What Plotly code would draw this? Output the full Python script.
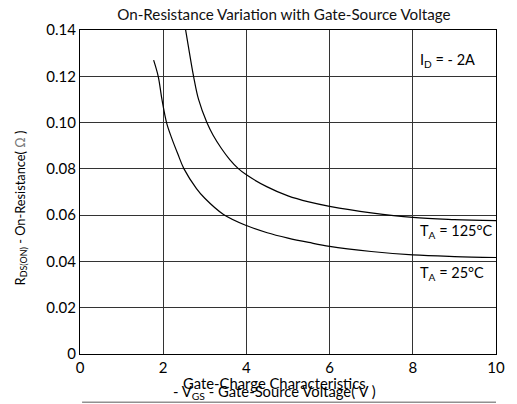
import plotly.graph_objects as go

# Data (VGS in V, RDS(ON) in ohm)
vgs_25 = [1.77, 1.88, 1.97, 2.08, 2.2, 2.35, 2.5, 2.8, 3.0, 3.45, 4.0, 4.5, 5.0, 5.5, 6.0, 7.0, 8.0, 9.0, 10.0]
rds_25 = [0.127, 0.120, 0.110, 0.100, 0.0935, 0.0865, 0.080, 0.0715, 0.0673, 0.0603, 0.0555, 0.0524, 0.0501, 0.0482, 0.0465, 0.0443, 0.0428, 0.0421, 0.0417]

vgs_125 = [2.53, 2.6, 2.73, 2.85, 3.05, 3.2, 3.4, 3.6, 3.8, 4.0, 4.5, 5.0, 5.5, 6.0, 7.0, 8.0, 9.0, 10.0]
rds_125 = [0.141, 0.1335, 0.120, 0.110, 0.100, 0.0945, 0.0888, 0.0840, 0.0802, 0.0774, 0.0722, 0.0683, 0.0657, 0.0638, 0.0610, 0.0590, 0.0581, 0.0576]

x_ticks = [0, 2, 4, 6, 8, 10]
y_ticks = [0, 0.02, 0.04, 0.06, 0.08, 0.10, 0.12, 0.14]
y_tick_labels = ["0", "0.02", "0.04", "0.06", "0.08", "0.10", "0.12", "0.14"]

FONT = "Lato"

fig = go.Figure()
for xs, ys in ((vgs_25, rds_25), (vgs_125, rds_125)):
    fig.add_trace(go.Scatter(x=xs, y=ys, mode="lines",
                             line=dict(color="black", width=1.2, shape="spline", smoothing=1),
                             showlegend=False))

# The page body has an 8px default margin, so the figure is sized 8px smaller
fig.update_layout(
    width=509, height=396,
    margin=dict(l=72, r=17, t=21, b=50),
    paper_bgcolor="white", plot_bgcolor="white",
    font=dict(family=FONT, size=14, color="black"),
    title=dict(text="On-Resistance Variation with Gate-Source Voltage",
               x=0.542, xanchor="center", y=0.984, yanchor="middle",
               font=dict(family=FONT, size=15.2, color="#111111")),
    xaxis=dict(range=[0, 10], tickvals=x_ticks, ticks="", showgrid=True,
               gridcolor="#333333", gridwidth=1, showline=True, linecolor="black",
               linewidth=1, mirror=True, zeroline=False,
               tickfont=dict(family=FONT, size=15)),
    yaxis=dict(range=[0, 0.14], tickvals=y_ticks, ticktext=y_tick_labels, ticks="",
               showgrid=True, gridcolor="#333333", gridwidth=1, showline=True,
               linecolor="black", linewidth=1, mirror=True, zeroline=False,
               tickfont=dict(family=FONT, size=15)),
)

annotations = [
    dict(text="I<sub>D</sub> = - 2A", x=8.13, y=0.1270, xref="x", yref="y",
         xanchor="left", yanchor="middle", showarrow=False, font=dict(size=14.5)),
    dict(text="T<sub>A</sub> = 125°C", x=8.13, y=0.0531, xref="x", yref="y",
         xanchor="left", yanchor="middle", showarrow=False, font=dict(size=14.5)),
    dict(text="T<sub>A</sub> = 25°C", x=8.13, y=0.0349, xref="x", yref="y",
         xanchor="left", yanchor="middle", showarrow=False, font=dict(size=14.5)),
    dict(text="R<sub>DS(ON)</sub> - On-Resistance( <span style='color:#777'>Ω</span> )",
         textangle=-90, x=-0.143, y=0.451, xref="paper", yref="paper",
         xanchor="center", yanchor="middle", showarrow=False, font=dict(size=12.8)),
    dict(text="Gate-Charge Characteristics", x=0.467, y=-0.089, xref="paper",
         yref="paper", xanchor="center", yanchor="middle", showarrow=False,
         font=dict(size=14.8)),
    dict(text="- V<sub>GS</sub> - Gate-Source Voltage( V )", x=0.467, y=-0.117,
         xref="paper", yref="paper", xanchor="center", yanchor="middle",
         showarrow=False, font=dict(size=14.8)),
    dict(text="5", x=-0.029, y=-0.135, xref="paper", yref="paper",
         xanchor="center", yanchor="top", showarrow=False, font=dict(size=14)),
]
fig.update_layout(annotations=annotations)

fig.add_shape(type="line", xref="paper", yref="paper", x0=0.005, x1=1.0,
              y0=-0.149, y1=-0.149, line=dict(color="#909090", width=1.5))

fig.write_html("out.html")
